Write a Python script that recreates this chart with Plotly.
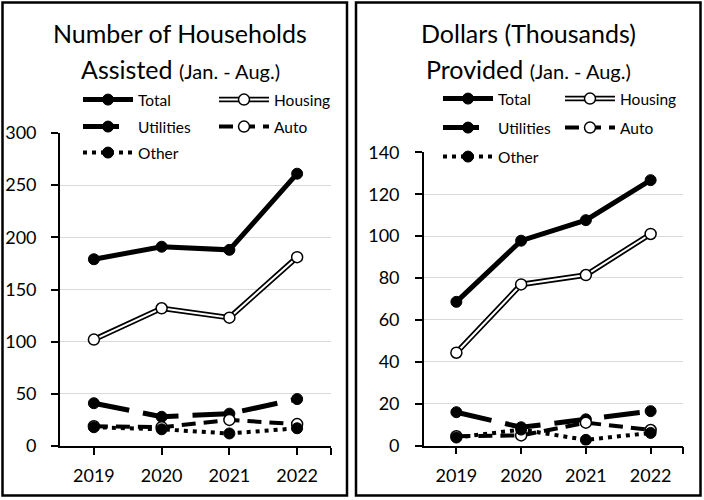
import plotly.graph_objects as go

# ---------------- data ----------------
years = [2019, 2020, 2021, 2022]
year_labels = ["2019", "2020", "2021", "2022"]

hh_total = [179, 191, 188, 261]
hh_housing = [102, 132, 123, 181]
hh_utilities = [41, 28, 31, 45]
hh_auto = [19, 18, 25, 21]
hh_other = [18, 16, 12, 17]

usd_total = [68.6, 97.8, 107.6, 126.7]
usd_housing = [44.3, 76.9, 81.4, 101]
usd_utilities = [15.9, 8.7, 12.5, 16.4]
usd_auto = [4.4, 4.8, 10.9, 7.4]
usd_other = [3.8, 7.6, 2.7, 6.0]

hh_ticks = [0, 50, 100, 150, 200, 250, 300]
hh_grid = [50, 100, 150, 200, 250]
usd_ticks = [0, 20, 40, 60, 80, 100, 120, 140]
usd_grid = [20, 40, 60, 80, 100, 120]

W, H = 704, 500
FONT = "Lato, Carlito, Calibri, sans-serif"


def px_x(p):
    return p / W


def px_y(p):
    return 1 - p / H


fig = go.Figure()

legend_pos = {
    "hh": {"Total": (83, 100), "Housing": (219, 100), "Utilities": (83, 127),
           "Auto": (219, 127), "Other": (83, 153)},
    "usd": {"Total": (443, 99), "Housing": (565, 99), "Utilities": (443, 128),
            "Auto": (565, 128), "Other": (443, 157)},
}

legend_layouts = {}
counter = [0]


def new_legend(px, py, transparent_text=False, bg="rgba(0,0,0,0)"):
    counter[0] += 1
    key = "legend" if counter[0] == 1 else f"legend{counter[0]}"
    legend_layouts[key] = dict(
        x=px_x(px - 5), y=px_y(py), xanchor="left", yanchor="middle",
        bgcolor=bg, borderwidth=0, itemwidth=50,
        font=dict(family=FONT, size=15.5,
                  color="rgba(0,0,0,0)" if transparent_text else "black"),
        tracegroupgap=0, itemclick=False, itemdoubleclick=False,
    )
    return key


def add_panel(prefix, xa, ya, total, housing, utilities, auto, other):
    pos = legend_pos[prefix]
    fig.add_trace(go.Scatter(
        x=years, y=total, name="Total", mode="lines+markers", xaxis=xa, yaxis=ya,
        line=dict(color="black", width=5),
        marker=dict(size=11, color="black", line=dict(color="black", width=1)),
        legend=new_legend(*pos["Total"])))
    fig.add_trace(go.Scatter(
        x=years, y=housing, name="Housing", mode="lines", xaxis=xa, yaxis=ya,
        line=dict(color="black", width=5.5),
        legend=new_legend(*pos["Housing"])))
    fig.add_trace(go.Scatter(
        x=years, y=housing, name="Housing", mode="lines+markers", xaxis=xa, yaxis=ya,
        line=dict(color="white", width=2),
        marker=dict(size=11, color="white", line=dict(color="black", width=1.5)),
        legend=new_legend(*pos["Housing"], transparent_text=True)))
    fig.add_trace(go.Scatter(
        x=years, y=utilities, name="Utilities", mode="lines+markers", xaxis=xa, yaxis=ya,
        line=dict(color="black", width=5, dash="36px,14px"),
        marker=dict(size=11, color="black", line=dict(color="black", width=1)),
        legend=new_legend(*pos["Utilities"])))
    fig.add_trace(go.Scatter(
        x=years, y=auto, name="Auto", mode="lines+markers", xaxis=xa, yaxis=ya,
        line=dict(color="black", width=4, dash="14px,8px"),
        marker=dict(size=11, color="white", line=dict(color="black", width=1.5)),
        legend=new_legend(*pos["Auto"])))
    fig.add_trace(go.Scatter(
        x=years, y=other, name="Other", mode="lines+markers", xaxis=xa, yaxis=ya,
        line=dict(color="black", width=4, dash="4px,5px"),
        marker=dict(size=11, color="black", line=dict(color="black", width=1)),
        legend=new_legend(*pos["Other"])))


add_panel("hh", "x", "y", hh_total, hh_housing, hh_utilities, hh_auto, hh_other)
add_panel("usd", "x2", "y2", usd_total, usd_housing, usd_utilities, usd_auto, usd_other)

axis_common = dict(
    showline=True, linecolor="black", linewidth=1.75,
    ticks="outside", ticklen=7, tickwidth=1.75, tickcolor="black",
    zeroline=False, fixedrange=True, automargin=False,
)

xtickvals = years + [2022.5]
xticktext = year_labels + [""]
tickfont = dict(family=FONT, size=18, color="black")

fig.update_layout(
    width=W, height=H,
    margin=dict(l=0, r=0, t=0, b=0, autoexpand=False),
    paper_bgcolor="white", plot_bgcolor="white",
    showlegend=True,
    xaxis=dict(domain=[px_x(60), px_x(331)], range=[2018.5, 2022.5],
               tickvals=xtickvals, ticktext=xticktext, showgrid=False,
               tickfont=tickfont, ticklabelstandoff=6, anchor="y", **axis_common),
    yaxis=dict(domain=[px_y(446), px_y(133)], range=[0, 300], tickvals=hh_ticks,
               showgrid=False,
               minor=dict(tickvals=hh_grid, showgrid=True, gridcolor="#d9d9d9",
                          gridwidth=1.3, ticks=""),
               tickfont=tickfont, ticklabelstandoff=11, anchor="x", **axis_common),
    xaxis2=dict(domain=[px_x(424), px_x(683)], range=[2018.5, 2022.5],
                tickvals=xtickvals, ticktext=xticktext, showgrid=False,
                tickfont=tickfont, ticklabelstandoff=6, anchor="y2", **axis_common),
    yaxis2=dict(domain=[px_y(445.5), px_y(152.3)], range=[0, 140], tickvals=usd_ticks,
                showgrid=False,
                minor=dict(tickvals=usd_grid, showgrid=True, gridcolor="#d9d9d9",
                           gridwidth=1.3, ticks=""),
                tickfont=tickfont, ticklabelstandoff=12, anchor="x2", **axis_common),
    **legend_layouts,
)

fig.add_shape(type="rect", xref="paper", yref="paper",
              x0=px_x(2.5), x1=px_x(347), y0=px_y(495.5), y1=px_y(2.5),
              line=dict(color="black", width=2.5), fillcolor="rgba(0,0,0,0)")
fig.add_shape(type="rect", xref="paper", yref="paper",
              x0=px_x(356), x1=px_x(700.5), y0=px_y(495.5), y1=px_y(2.5),
              line=dict(color="black", width=2.5), fillcolor="rgba(0,0,0,0)")

titles = [
    (180, "Number of Households", "Assisted", "(Jan. - Aug.)"),
    (528, "Dollars (Thousands)", "Provided", "(Jan. - Aug.)"),
]
for cx, l1, l2, l3 in titles:
    fig.add_annotation(x=px_x(cx), y=px_y(33), xref="paper", yref="paper",
                       text=l1, showarrow=False, xanchor="center", yanchor="middle",
                       font=dict(family=FONT, size=25, color="black"))
    fig.add_annotation(x=px_x(cx), y=px_y(69), xref="paper", yref="paper",
                       text=f"{l2} <span style='font-size:20px'>{l3}</span>",
                       showarrow=False, xanchor="center", yanchor="middle",
                       font=dict(family=FONT, size=25, color="black"))

fig.write_html(
    "out.html",
    config={"displayModeBar": False},
    post_script="document.body.style.margin='0px';",
)
